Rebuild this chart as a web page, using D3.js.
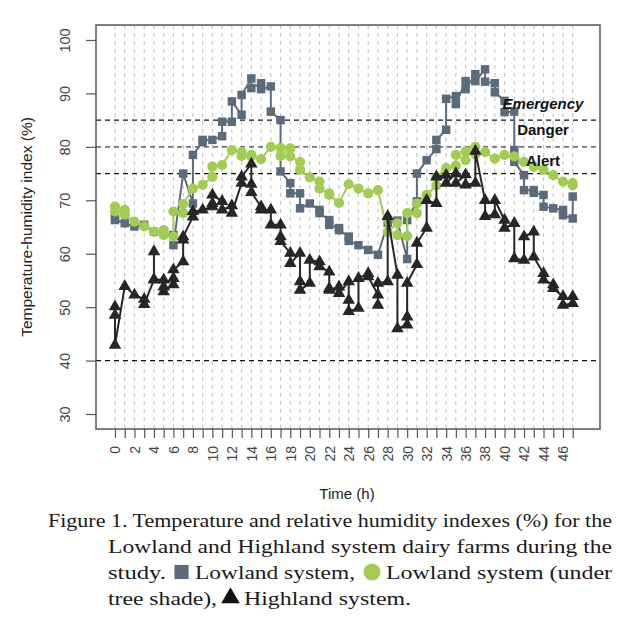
<!DOCTYPE html>
<html>
<head>
<meta charset="utf-8">
<script src="https://cdn.jsdelivr.net/npm/d3@7/dist/d3.min.js"></script>
<style>
  body { margin: 0; background: #fff; }
  svg { display: block; }
</style>
</head>
<body>
<div id="chart"></div>
<script>
// hours on the x axis, one grid line each
var hours = d3.range(0, 48);
var yTicks = [30, 40, 50, 60, 70, 80, 90, 100];

// values per hour (several readings at the same hour are joined by the line)
var lowland = [
  [66.9, 66.3], [65.7], [65.1], [65.4], [64.1], [64.0, 63.8], [63.5, 61.6], [75.0],
  [69.4, 78.5], [80.9, 81.3], [81.3], [82.0, 84.7], [84.7, 88.5], [86.0, 89.7], [92.8, 91.0], [91.9, 90.8],
  [91.3, 86.6], [85.0, 75.4], [73.2, 71.3], [71.3, 68.5], [69.4], [68.2, 67.6], [66.3, 65.4], [64.8, 64.4],
  [63.2, 62.4], [61.6], [60.7], [59.8], [65.8], [66.2], [59.0, 66.3], [69.8, 75.0],
  [77.5], [79.6, 81.3], [83.2, 89.0], [89.5, 88.0], [92.3, 90.8], [93.6, 92.3], [94.5, 92.2], [91.9, 90.2],
  [88.6, 86.5], [86.6, 79.4, 77.2], [74.7, 71.9], [71.9, 71.4], [71.0, 68.8], [68.5], [68.2, 67.2], [66.6, 70.7]
];
var lowlandShade = [
  [68.8, 67.9], [68.2, 67.3], [66.0], [65.1], [64.1], [64.4, 63.5], [63.2, 67.9], [67.6, 69.3],
  [72.2], [72.9], [74.4, 76.3], [76.6], [79.4], [79.0, 78.3], [78.5, 78.2], [77.7],
  [80.0], [79.8, 78.3], [79.7, 78.2], [77.2, 75.7], [74.3], [73.5, 72.2], [71.3, 71.0], [69.5],
  [73.0], [72.2], [71.3], [71.9], [64.1], [65.7, 63.5], [63.3, 67.6], [67.6, 69.4],
  [71.0], [72.8, 74.3], [76.0], [76.5, 78.5], [77.5, 79.1], [80.0, 78.6], [79.0], [77.8],
  [78.5], [78.2], [77.2], [76.3], [75.7], [74.7], [73.5], [73.2, 72.8]
];
var highland = [
  [50.1, 48.5, 42.9], [53.9], [52.3], [51.5, 50.5], [55.1, 60.4, 55.2], [55.1, 53.8, 52.9], [54.2, 55.4, 57.0], [58.5, 62.6, 63.2],
  [66.9, 67.9], [68.2], [68.8, 69.4, 71.0], [69.8, 68.2], [69.0, 67.6], [73.2, 74.4], [76.8, 73.0, 71.5], [68.8, 68.2],
  [68.2, 65.4], [65.4, 63.2, 62.3], [60.1, 58.2], [60.1, 54.8, 53.2], [54.5, 58.8], [58.5, 57.6], [56.6, 53.5, 53.2], [53.8, 52.6],
  [54.8, 51.3, 49.2], [49.8, 55.4], [56.3, 55.7], [52.3, 50.4, 54.5], [54.8, 67.0], [56.0, 46.0], [46.7, 48.2, 54.5], [58.0, 62.0],
  [64.8, 70.0], [69.4, 74.4], [74.7, 73.2], [75.0, 73.2], [74.8, 72.9], [73.2, 79.2], [70.0, 67.0], [67.3, 70.0],
  [66.3, 64.8], [65.7, 59.1], [58.8, 63.2], [64.1, 59.4], [56.3, 55.1], [54.2, 53.5], [52.0, 50.4], [50.7, 52.0]
];

// threshold lines and the band labels (placed at a value inside each band)
var limits = [85, 80, 75, 40];
var limitLabels = [
  { text: "Emergency", value: 88.0, italic: true },
  { text: "Danger", value: 83.2, italic: false },
  { text: "Alert", value: 77.4, italic: false }
];

var W = 626, H = 628;
var mLeft = 96, mRight = 600, mTop = 25, mBottom = 429;

var svg = d3.select("#chart").append("svg")
  .attr("width", W)
  .attr("height", H);

var x = d3.scaleLinear().domain([-1.95, 49.8]).range([mLeft, mRight]);
var y = d3.scaleLinear().domain([27.2, 102.8]).range([mBottom, mTop]);

// vertical grid
svg.append("g")
  .selectAll("line")
  .data(hours)
  .enter().append("line")
  .attr("x1", function(d) { return x(d); })
  .attr("x2", function(d) { return x(d); })
  .attr("y1", mTop)
  .attr("y2", mBottom)
  .attr("stroke", "#c8c8c8")
  .attr("stroke-width", 1.2)
  .attr("stroke-dasharray", "4,4");

// horizontal limits
svg.append("g")
  .selectAll("line")
  .data(limits)
  .enter().append("line")
  .attr("x1", mLeft)
  .attr("x2", mRight)
  .attr("y1", function(d) { return y(d); })
  .attr("y2", function(d) { return y(d); })
  .attr("stroke", function(d) { return d == 80 ? "#777" : "#111"; })
  .attr("stroke-width", function(d) { return d == 80 ? 1.6 : 1.2; })
  .attr("stroke-dasharray", "5,4");

// flatten readings into points
function flat(series) {
  var pts = [];
  series.forEach(function(vals, i) {
    vals.forEach(function(v) { pts.push({ h: hours[i], v: v }); });
  });
  return pts;
}

var line = d3.line()
  .x(function(d) { return x(d.h); })
  .y(function(d) { return y(d.v); });

function drawSeries(series, color, shape, size) {
  var pts = flat(series);
  var g = svg.append("g");
  g.append("path")
    .datum(pts)
    .attr("d", line)
    .attr("fill", "none")
    .attr("stroke", color)
    .attr("stroke-width", 2);
  g.selectAll("path.pt")
    .data(pts)
    .enter().append("path")
    .attr("class", "pt")
    .attr("transform", function(d) { return "translate(" + x(d.h) + "," + y(d.v) + ")"; })
    .attr("d", d3.symbol().type(shape).size(size))
    .attr("fill", color);
}

drawSeries(lowland, "#5b6b7c", d3.symbolSquare, 72);
drawSeries(lowlandShade, "#a3cc55", d3.symbolCircle, 82);
drawSeries(highland, "#262626", d3.symbolTriangle, 68);

// limit labels
svg.append("g")
  .selectAll("text")
  .data(limitLabels)
  .enter().append("text")
  .attr("x", 543)
  .attr("y", function(d) { return y(d.value); })
  .attr("dy", "0.35em")
  .attr("text-anchor", "middle")
  .style("font-family", "Liberation Sans, Arial, sans-serif")
  .style("font-size", "15px")
  .style("font-weight", "bold")
  .style("font-style", function(d) { return d.italic ? "italic" : "normal"; })
  .attr("fill", "#111")
  .text(function(d) { return d.text; });

// frame
svg.append("rect")
  .attr("x", mLeft)
  .attr("y", mTop)
  .attr("width", mRight - mLeft)
  .attr("height", mBottom - mTop)
  .attr("fill", "none")
  .attr("stroke", "#555")
  .attr("stroke-width", 1.5);

// y axis
var yAxis = svg.append("g")
  .attr("transform", "translate(" + mLeft + ",0)")
  .call(d3.axisLeft(y).tickValues(yTicks).tickSize(10));
yAxis.select(".domain").remove();
yAxis.selectAll("line").attr("stroke", "#555").attr("stroke-width", 1.2);
yAxis.selectAll("text")
  .attr("x", null)
  .attr("dy", "0.35em")
  .attr("text-anchor", "middle")
  .attr("transform", "translate(-31,0) rotate(-90)")
  .style("font-family", "Liberation Sans, Arial, sans-serif")
  .style("font-size", "14.5px")
  .attr("fill", "#444");

// x axis
var xAxis = svg.append("g")
  .attr("transform", "translate(0," + mBottom + ")")
  .call(d3.axisBottom(x).tickValues(hours).tickSize(9)
    .tickFormat(function(d) { return d % 2 == 0 ? d : ""; }));
xAxis.select(".domain").remove();
xAxis.selectAll("line").attr("stroke", "#555").attr("stroke-width", 1.2);
xAxis.selectAll("text")
  .attr("y", null)
  .attr("dy", "0.35em")
  .attr("transform", "translate(0,17) rotate(-90)")
  .attr("text-anchor", "end")
  .style("font-family", "Liberation Sans, Arial, sans-serif")
  .style("font-size", "14px")
  .attr("fill", "#444");

// axis titles
svg.append("text")
  .attr("x", 347)
  .attr("y", 499)
  .attr("text-anchor", "middle")
  .style("font-family", "Liberation Sans, Arial, sans-serif")
  .style("font-size", "15px")
  .attr("fill", "#222")
  .text("Time (h)");

svg.append("text")
  .attr("transform", "translate(32,227) rotate(-90)")
  .attr("text-anchor", "middle")
  .style("font-family", "Liberation Sans, Arial, sans-serif")
  .style("font-size", "15.5px")
  .attr("fill", "#222")
  .text("Temperature-humidity index (%)");

// caption
var cap = svg.append("g")
  .style("font-family", "Liberation Serif, Times New Roman, serif")
  .style("font-size", "19.5px")
  .attr("fill", "#1a1a1a");

function capText(t, x0, x1, yy) {
  cap.append("text")
    .attr("x", x0)
    .attr("y", yy)
    .attr("textLength", x1 - x0)
    .attr("lengthAdjust", "spacingAndGlyphs")
    .text(t);
}

capText("Figure 1. Temperature and relative humidity indexes (%) for the", 48, 612, 527);
capText("Lowland and Highland system dairy farms during the", 108, 612, 553);
capText("study.", 108, 166, 579);
capText("Lowland system,", 195, 355, 579);
capText("Lowland system (under", 386, 612, 579);
capText("tree shade),", 108, 217, 605);
capText("Highland system.", 244, 411, 605);

cap.append("path")
  .attr("transform", "translate(181.5,572)")
  .attr("d", d3.symbol().type(d3.symbolSquare).size(200))
  .attr("fill", "#5b6b7c");
cap.append("path")
  .attr("transform", "translate(372,572)")
  .attr("d", d3.symbol().type(d3.symbolCircle).size(230))
  .attr("fill", "#a3cc55");
cap.append("path")
  .attr("transform", "translate(230.5,598)")
  .attr("d", d3.symbol().type(d3.symbolTriangle).size(150))
  .attr("fill", "#111");
</script>
</body>
</html>
